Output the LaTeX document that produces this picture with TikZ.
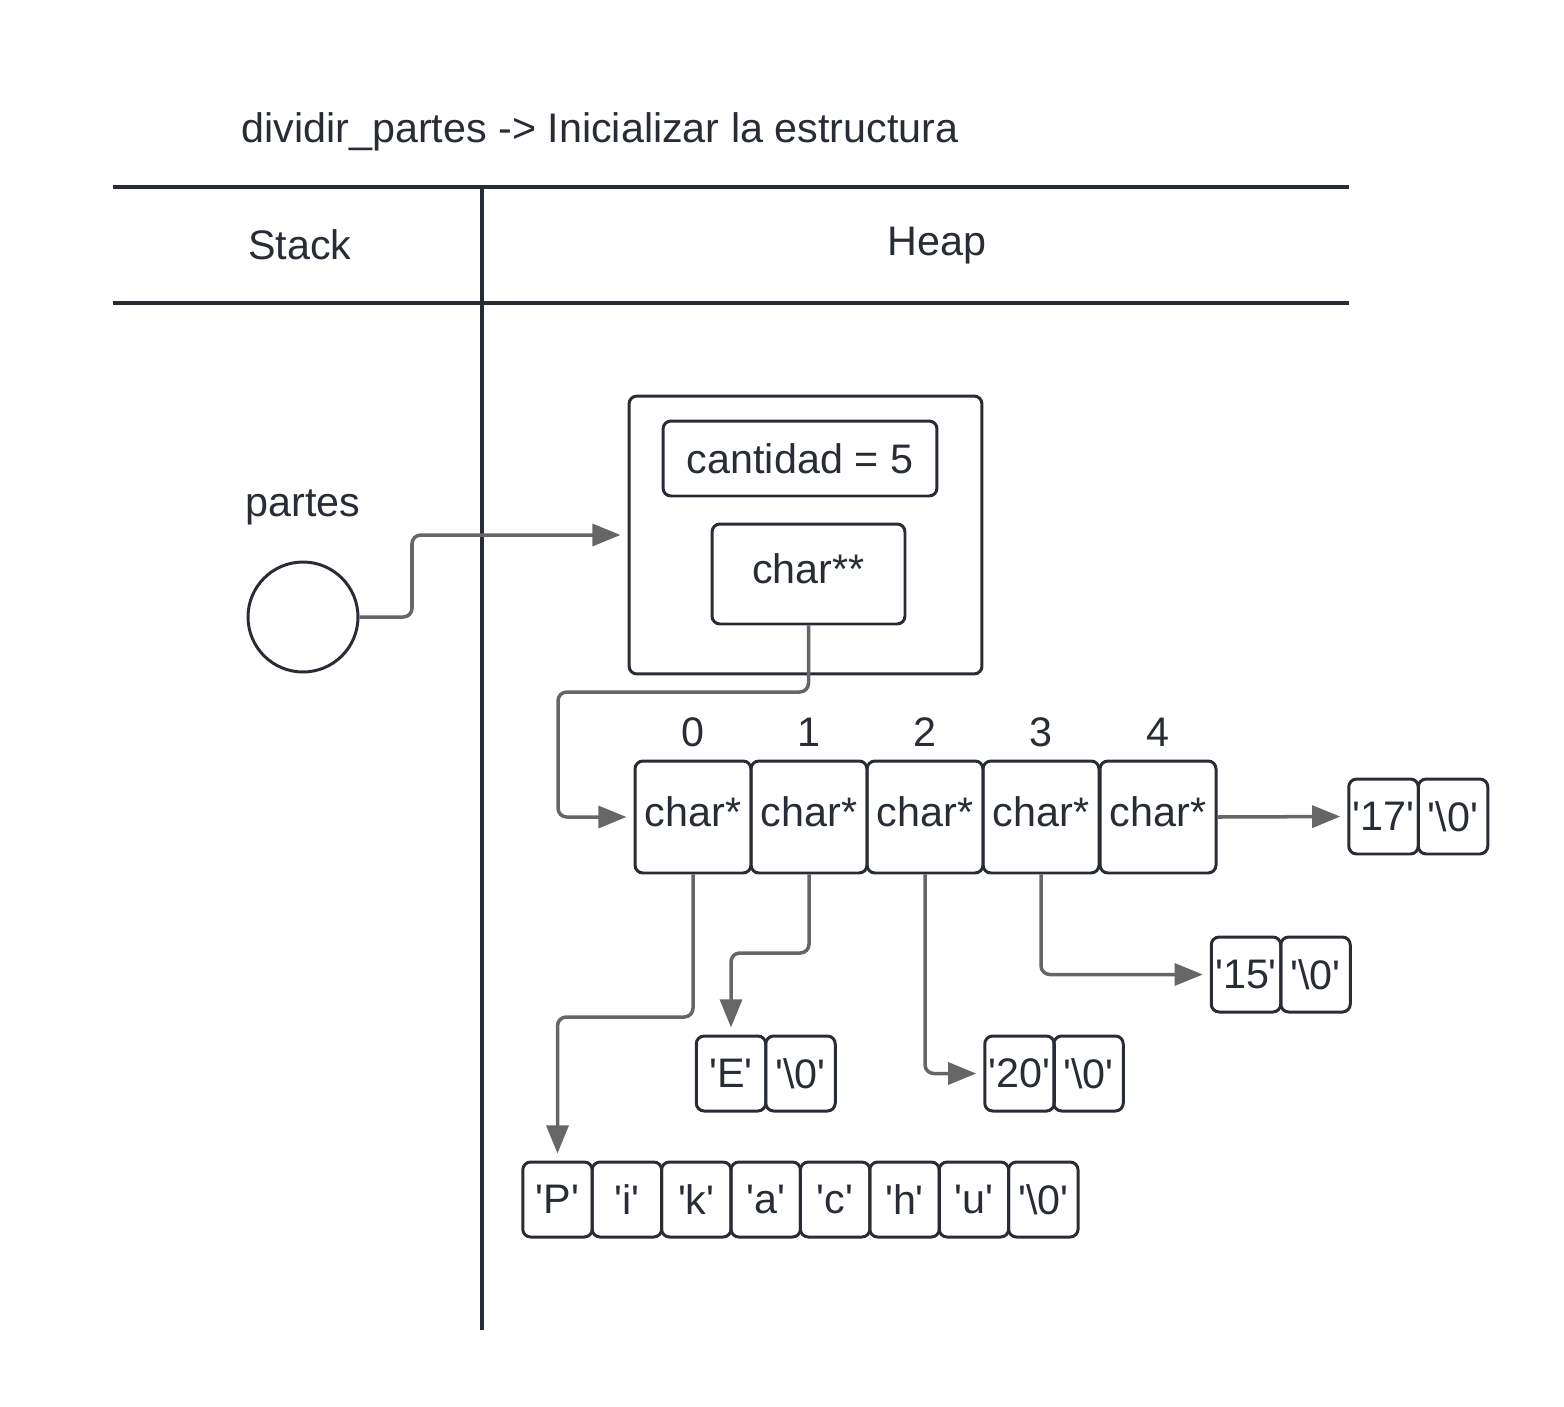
\documentclass[tikz,border=0pt]{standalone}
\usepackage{fontspec}
\setmainfont{Liberation Sans}
\usetikzlibrary{arrows.meta}
\definecolor{ln}{RGB}{40,44,52}
\definecolor{ar}{RGB}{102,102,102}
\newcommand{\q}{\textquotesingle}
\begin{document}
\begin{tikzpicture}[x=0.02cm,y=-0.02cm,
  every node/.style={text=ln,font=\fontsize{23.5}{28}\selectfont,inner sep=0pt},
  sep/.style={draw=ln,line width=1.9pt},
  cell/.style={draw=ln,line width=1.7pt,rounded corners=4.5pt},
  small/.style={cell,minimum width=1.39cm,minimum height=1.5cm},
  arrcell/.style={cell,minimum width=2.32cm,minimum height=2.24cm},
  arr/.style={draw=ar,line width=2pt,rounded corners=5pt,-{Triangle[length=16pt,width=12.5pt]},shorten >=4pt}
]
\useasboundingbox (0,0) rectangle (1564,1406);

% title and separators
\node[anchor=west] (title) at (241,132) {dividir\_partes -> Inicializar la estructura};
\coordinate (h1l) at (113,187); \coordinate (h1r) at (1349,187);
\coordinate (h2l) at (113,303); \coordinate (h2r) at (1349,303);
\coordinate (vt) at (482,187); \coordinate (vb) at (482,1330);
\draw[sep] (h1l) -- (h1r);
\draw[sep] (h2l) -- (h2r);
\draw[sep] (vt) -- (vb);
\node (stack) at (300,245) {Stack};
\node (heap) at (937,246) {Heap};

% stack
\node (plabel) at (303,507) {partes};
\node[draw=ln,line width=1.7pt,circle,minimum size=2.2cm] (c) at (303,617) {};

% struct
\node[cell,minimum width=7.06cm,minimum height=5.56cm] (outer) at (805.5,535) {};
\node[cell,minimum width=5.48cm,minimum height=1.5cm] (cant) at (800,458.5) {\raisebox{-2pt}{cantidad = 5}};
\node[cell,minimum width=3.86cm,minimum height=2cm] (cs) at (808.5,574) {\raisebox{6.5pt}{char**}};

% array
\foreach \i/\x in {0/693,1/809,2/925,3/1041,4/1158}{
  \node[arrcell] (a\i) at (\x,817) {\raisebox{6pt}{char*}};
  \node (n\i) at (\x,732) {\i};
}

% strings
\foreach \i/\t in {0/P,1/i,2/k,3/a,4/c,5/h,6/u}{
  \node[small] (p\i) at ({557.5+69.4*\i},1199.5) {\q\t\q};
}
\node[small] (p7) at ({557.5+69.4*7},1199.5) {\q\textbackslash0\q};

\node[small] (e1) at (731,1073.5) {\q E\q};
\node[small] (e2) at (800.5,1073.5) {\q\textbackslash0\q};
\node[small] (t1) at (1019.5,1073.5) {\q20\q};
\node[small] (t2) at (1088.5,1073.5) {\q\textbackslash0\q};
\node[small] (f1) at (1246,974.5) {\q15\q};
\node[small] (f2) at (1315.5,974.5) {\q\textbackslash0\q};
\node[small] (s1) at (1383.5,816.5) {\q17\q};
\node[small] (s2) at (1453,816.5) {\q\textbackslash0\q};

% connectors
\draw[arr] (c.east) -- (412,617) -- (412,535) -- (outer.west);
\draw[arr] (cs.south) -- (808.5,692) -- (558,692) -- (558,817) -- (a0.west);
\draw[arr] (a4.east) -- (s1.west);
\draw[arr] (a0.south) -- (693,1017) -- (557.5,1017) -- (p0.north);
\draw[arr] (a1.south) -- (809,953) -- (731,953) -- (e1.north);
\draw[arr] (a2.south) |- (t1.west);
\draw[arr] (a3.south) |- (f1.west);
\end{tikzpicture}
\end{document}
